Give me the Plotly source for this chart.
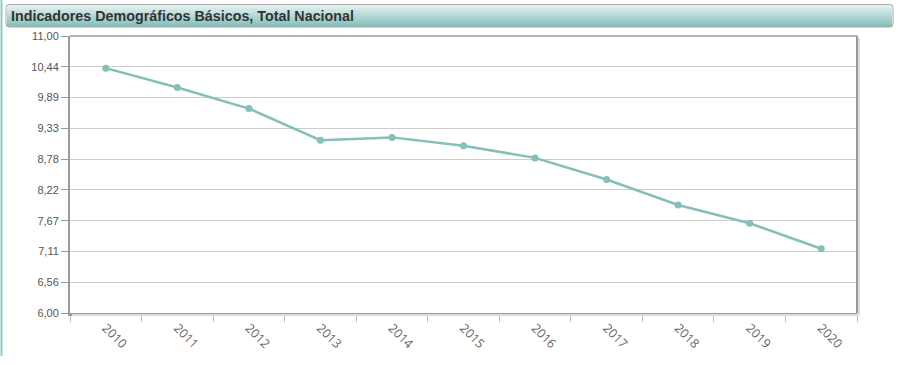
import plotly.graph_objects as go

years = ["2010", "2011", "2012", "2013", "2014", "2015", "2016", "2017", "2018", "2019", "2020"]
values = [10.42, 10.07, 9.69, 9.12, 9.17, 9.02, 8.80, 8.41, 7.95, 7.62, 7.16]
y_tickvals = [6 + k * 5 / 9 for k in range(10)]
y_ticktext = ["6,00", "6,56", "7,11", "7,67", "8,22", "8,78", "9,33", "9,89", "10,44", "11,00"]
title_text = "Indicadores Demográficos Básicos, Total Nacional"

W, H = 898, 365
L, R, T, B = 70, 41, 36, 52
pw, ph = W - L - R, H - T - B


def px_x(x):
    return (x - L) / pw


def px_y(y):
    return (H - B - y) / ph


fig = go.Figure()
fig.add_trace(go.Scatter(
    x=years, y=values, mode="lines+markers",
    line=dict(color="#84bfb8", width=2.5),
    marker=dict(color="#84bfb8", size=7),
    hoverinfo="x+y", showlegend=False,
))

shapes = []
# left teal edge line
shapes.append(dict(type="line", xref="paper", yref="paper",
                   x0=px_x(1.5), x1=px_x(1.5), y0=px_y(0), y1=px_y(356),
                   line=dict(color="#8ec9c4", width=2)))
# gradient title bar
top, bot = 5, 27
c_top = (228, 243, 241)
c_bot = (130, 190, 185)
n = bot - top
for i in range(n):
    t = i / (n - 1)
    c = tuple(int(round(a + (b - a) * t)) for a, b in zip(c_top, c_bot))
    shapes.append(dict(type="rect", xref="paper", yref="paper",
                       x0=px_x(7), x1=px_x(892), y0=px_y(top + i + 1), y1=px_y(top + i),
                       fillcolor="rgb(%d,%d,%d)" % c, line=dict(width=0)))
# rounded border of title bar
x0, x1, y0, y1, r = 6, 893, 4.5, 27, 3
def P(x, y):
    return "%.5f %.5f" % (px_x(x), px_y(y))
path = ("M " + P(x0 + r, y0) + " L " + P(x1 - r, y0) + " Q " + P(x1, y0) + " " + P(x1, y0 + r) +
        " L " + P(x1, y1 - r) + " Q " + P(x1, y1) + " " + P(x1 - r, y1) +
        " L " + P(x0 + r, y1) + " Q " + P(x0, y1) + " " + P(x0, y1 - r) +
        " L " + P(x0, y0 + r) + " Q " + P(x0, y0) + " " + P(x0 + r, y0) + " Z")
shapes.append(dict(type="path", xref="paper", yref="paper", path=path,
                   line=dict(color="#a9a9a9", width=1)))
# frame shadow (right and bottom)
shapes.append(dict(type="line", xref="paper", yref="paper",
                   x0=px_x(859), x1=px_x(859), y0=px_y(38), y1=px_y(315),
                   line=dict(color="#dcdcdc", width=2)))
shapes.append(dict(type="line", xref="paper", yref="paper",
                   x0=px_x(72), x1=px_x(859), y0=px_y(315), y1=px_y(315),
                   line=dict(color="#dcdcdc", width=2)))
# top and right frame
shapes.append(dict(type="line", xref="paper", yref="paper",
                   x0=0, x1=1, y0=1, y1=1, line=dict(color="#9a9a9a", width=1.5)))
shapes.append(dict(type="line", xref="paper", yref="paper",
                   x0=1, x1=1, y0=0, y1=1, line=dict(color="#9a9a9a", width=2)))

fig.update_layout(
    width=W, height=H,
    margin=dict(l=L, r=R, t=T, b=B, pad=0),
    paper_bgcolor="white", plot_bgcolor="white",
    shapes=shapes,
    annotations=[dict(text="<b>" + title_text + "</b>", xref="paper", yref="paper",
                      x=px_x(9), y=px_y(16), xanchor="left", yanchor="middle",
                      showarrow=False,
                      font=dict(family="Liberation Sans, Arial, sans-serif", size=14.3, color="#333333"))],
    xaxis=dict(
        type="category", range=[-0.5, 10.5],
        showgrid=False, zeroline=False,
        showline=True, linecolor="#9a9a9a", linewidth=2.5,
        ticks="outside", tickson="boundaries", ticklen=6, tickcolor="#bdbdbd", tickwidth=1,
        tickangle=45,
        tickfont=dict(family="Open Sans, sans-serif", size=12.5, color="#666666"),
    ),
    yaxis=dict(
        range=[6, 11], tickvals=y_tickvals, ticktext=y_ticktext,
        showgrid=True, gridcolor="#cccccc", gridwidth=1, zeroline=False,
        showline=True, linecolor="#9a9a9a", linewidth=2,
        ticks="outside", ticklen=7, tickcolor="#9a9a9a", tickwidth=1,
        tickfont=dict(family="Liberation Sans, Arial, sans-serif", size=11, color="#555555"),
    ),
)

fig.write_html("out.html", config={"displayModeBar": False},
               post_script="document.body.style.margin='0px';document.body.style.padding='0px';")
